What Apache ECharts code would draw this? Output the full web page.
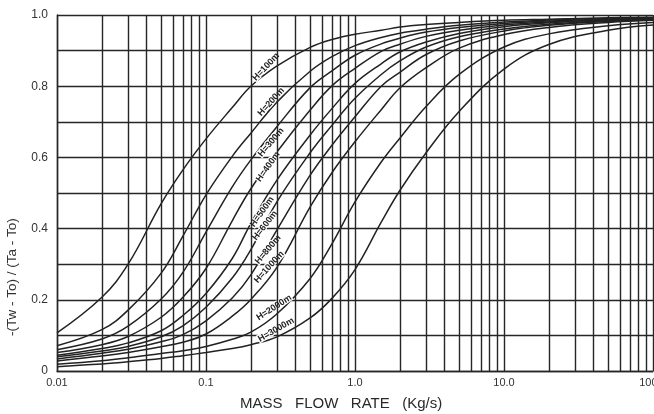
<!DOCTYPE html>
<html>
<head>
<meta charset="utf-8">
<script src="https://cdn.jsdelivr.net/npm/echarts@6/dist/echarts.min.js"></script>
<style>
  html, body { margin: 0; padding: 0; background: #fff; }
  #chart { width: 654px; height: 414px; }
</style>
</head>
<body>
<div id="chart"></div>
<script>
// mass flow rate (kg/s) sample points
var massFlow = [0.01, 0.02, 0.03, 0.05, 0.07, 0.1, 0.15, 0.2, 0.3, 0.5, 0.7, 1, 1.5, 2, 3, 5, 10, 20, 50, 100];

// -(Tw-To)/(Ta-To) for each depth H
var h100  = [0.107, 0.207, 0.300, 0.470, 0.565, 0.652, 0.740, 0.800, 0.857, 0.909, 0.931, 0.946, 0.957, 0.966, 0.973, 0.979, 0.985, 0.988, 0.992, 0.994];
var h200  = [0.071, 0.116, 0.171, 0.275, 0.379, 0.495, 0.603, 0.668, 0.756, 0.842, 0.883, 0.914, 0.937, 0.949, 0.960, 0.971, 0.980, 0.986, 0.990, 0.992];
var h300  = [0.060, 0.090, 0.126, 0.202, 0.277, 0.390, 0.517, 0.593, 0.687, 0.796, 0.843, 0.887, 0.919, 0.935, 0.952, 0.965, 0.976, 0.983, 0.989, 0.991];
var h400  = [0.052, 0.074, 0.097, 0.151, 0.207, 0.288, 0.422, 0.512, 0.616, 0.733, 0.801, 0.850, 0.898, 0.918, 0.940, 0.957, 0.972, 0.980, 0.987, 0.990];
var h500  = [0.044, 0.063, 0.079, 0.113, 0.156, 0.218, 0.316, 0.415, 0.537, 0.663, 0.737, 0.808, 0.863, 0.896, 0.924, 0.948, 0.967, 0.978, 0.986, 0.989];
var h600  = [0.040, 0.056, 0.069, 0.096, 0.127, 0.179, 0.261, 0.341, 0.476, 0.613, 0.690, 0.766, 0.833, 0.871, 0.910, 0.939, 0.961, 0.974, 0.984, 0.988];
var h800  = [0.034, 0.050, 0.061, 0.082, 0.102, 0.141, 0.205, 0.270, 0.397, 0.550, 0.634, 0.714, 0.800, 0.839, 0.889, 0.927, 0.955, 0.971, 0.982, 0.987];
var h1000 = [0.028, 0.042, 0.052, 0.068, 0.081, 0.104, 0.154, 0.201, 0.292, 0.461, 0.557, 0.644, 0.734, 0.795, 0.852, 0.907, 0.945, 0.965, 0.979, 0.985];
var h2000 = [0.019, 0.029, 0.037, 0.049, 0.057, 0.069, 0.089, 0.109, 0.161, 0.260, 0.357, 0.475, 0.587, 0.654, 0.743, 0.833, 0.910, 0.947, 0.970, 0.979];
var h3000 = [0.012, 0.020, 0.026, 0.035, 0.043, 0.052, 0.063, 0.074, 0.096, 0.149, 0.204, 0.285, 0.418, 0.507, 0.613, 0.729, 0.848, 0.917, 0.957, 0.972];

var curveNames = ['H=100m', 'H=200m', 'H=300m', 'H=400m', 'H=500m', 'H=600m', 'H=800m', 'H=1000m', 'H=2000m', 'H=3000m'];
var curveValues = [h100, h200, h300, h400, h500, h600, h800, h1000, h2000, h3000];

// x tick labels (decades) and minor log-paper lines
var decadeLabels = { '-2': '0.01', '-1': '0.1', '0': '1.0', '1': '10.0', '2': '100.0' };
var minorLines = [0.02, 0.03, 0.04, 0.05, 0.06, 0.07, 0.08, 0.09,
                  0.2, 0.3, 0.4, 0.5, 0.6, 0.7, 0.8, 0.9,
                  2, 3, 4, 5, 6, 7, 8, 9,
                  20, 30, 40, 50, 60, 70, 80, 90];

// curve labels hang on the m=0.3 sample; shift is in screen px, angle in degrees
var labelAt = 8;
var labelShift = [[-11, 1], [-6, 0], [-6, 16], [-9, 15], [-15, 32], [-12, 24], [-9, 20], [-8, 0], [-3, -6], [-1, -7]];
var labelRotate = [47, 48, 50, 55, 55, 52, 50, 48, 33, 30];

var ink = '#222';
var chart = echarts.init(document.getElementById('chart'));

// label offset is applied in the rotated frame, so turn the screen shift back
function localOffset(shift, deg) {
    var a = deg * Math.PI / 180, c = Math.cos(a), s = Math.sin(a);
    return [c * shift[0] - s * shift[1], s * shift[0] + c * shift[1]];
}

var series = curveValues.map(function (vals, i) {
    var data = massFlow.map(function (m, j) {
        var item = { value: [m, vals[j]] };
        if (j === labelAt) {
            item.label = {
                show: true,
                position: 'inside',
                formatter: curveNames[i],
                rotate: labelRotate[i],
                offset: localOffset(labelShift[i], labelRotate[i]),
                fontSize: 9,
                fontWeight: 'bold',
                color: ink,
                fontFamily: 'Liberation Sans',
                textBorderColor: '#fff',
                textBorderWidth: 2.5
            };
        }
        return item;
    });
    return {
        name: curveNames[i],
        type: 'line',
        data: data,
        smooth: 0.4,
        showSymbol: true,
        symbol: 'circle',
        symbolSize: 0.01,
        itemStyle: { color: ink },
        label: { show: false },
        silent: true,
        lineStyle: { color: ink, width: 1.5 },
        z: 3
    };
});

// minor vertical lines of the log paper
series.push({
    type: 'line',
    data: [],
    silent: true,
    z: 1,
    markLine: {
        silent: true,
        symbol: ['none', 'none'],
        label: { show: false },
        animation: false,
        lineStyle: { color: '#262626', width: 1.4, type: 'solid' },
        data: minorLines.map(function (v) { return { xAxis: v }; })
    }
});

var option = {
    animation: false,
    backgroundColor: '#fff',
    grid: { left: 57, right: 1, top: 15, bottom: 43, containLabel: false, outerBoundsMode: 'none' },
    xAxis: {
        type: 'log',
        logBase: 10,
        min: 0.01,
        max: 100,
        axisLine: { show: true, lineStyle: { color: '#262626', width: 1.4 } },
        axisTick: { show: false },
        splitLine: { show: true, lineStyle: { color: '#262626', width: 1.4 } },
        axisLabel: {
            margin: 6,
            fontSize: 11,
            color: '#333',
            fontFamily: 'Liberation Sans',
            showMaxLabel: true,
            hideOverlap: false,
            formatter: function (v) {
                return decadeLabels[String(Math.round(Math.log10(v)))] || '';
            }
        }
    },
    yAxis: {
        type: 'value',
        min: 0,
        max: 1,
        interval: 0.1,
        axisLine: { show: true, lineStyle: { color: '#262626', width: 1.4 } },
        axisTick: { show: false },
        splitLine: { show: true, lineStyle: { color: '#262626', width: 1.4 } },
        axisLabel: {
            margin: 9,
            fontSize: 12,
            color: '#333',
            fontFamily: 'Liberation Sans',
            formatter: function (v) {
                var t = Math.round(v * 10);
                if (t % 2 !== 0) return '';
                return t === 0 ? '0' : (t / 10).toFixed(1);
            }
        }
    },
    graphic: [
        {
            type: 'text',
            left: 240, top: 396,
            style: {
                text: 'MASS   FLOW   RATE   (Kg/s)',
                font: '15px "Liberation Sans"',
                fill: '#2a2a2a'
            }
        },
        {
            type: 'text',
            x: 5, y: 336,
            rotation: Math.PI / 2,
            style: {
                text: '-(Tw - To) / (Ta - To)',
                font: '13.5px "Liberation Sans"',
                fill: '#333'
            }
        }
    ],
    series: series
};

chart.setOption(option);
</script>
</body>
</html>
